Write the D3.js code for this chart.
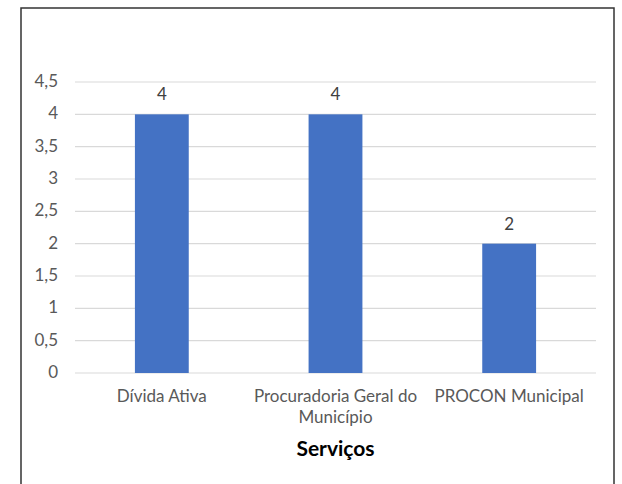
<!DOCTYPE html>
<html><head><meta charset="utf-8">
<script src="https://cdn.jsdelivr.net/npm/d3@7"></script>
<style>body{margin:0;background:#fff}svg{display:block}</style>
</head><body>
<script>
const categories = [["Dívida Ativa"], ["Procuradoria Geral do", "Município"], ["PROCON Municipal"]];
const values = [4, 4, 2];
const yTicks = [0, 0.5, 1, 1.5, 2, 2.5, 3, 3.5, 4, 4.5];
const xTitle = "Serviços";

(function() {
const W = 622, H = 484;
const svg = d3.select("body").append("svg").attr("width", W).attr("height", H);
const font = "Lato, 'Open Sans', sans-serif";

svg.append("rect").attr("x", 21).attr("y", 8).attr("width", 593).attr("height", H + 10)
  .attr("fill", "#fff").attr("stroke", "#333").attr("stroke-width", 1.5);

const pL = 75, pR = 596, pT = 82, pB = 373;
const idx = d3.range(values.length);
const x = d3.scaleBand().domain(idx).range([pL, pR]).padding(0);
const y = d3.scaleLinear().domain([0, 4.5]).range([pB, pT]);
const bw = x.bandwidth() * 0.31;

svg.append("g").selectAll("line").data(yTicks).join("line")
  .attr("x1", pL).attr("x2", pR)
  .attr("y1", d => y(d)).attr("y2", d => y(d))
  .attr("stroke", "#d9d9d9").attr("stroke-width", 1.2);

const fmt = d => String(d).replace(".", ",");
svg.append("g").selectAll("text").data(yTicks).join("text")
  .attr("x", 58).attr("y", d => y(d)).attr("dy", "0.3em")
  .attr("text-anchor", "end").attr("font-family", font).attr("font-size", 17)
  .attr("fill", "#595959").text(fmt);

svg.append("g").selectAll("rect").data(idx).join("rect")
  .attr("x", i => x(i) + (x.bandwidth() - bw) / 2).attr("width", bw)
  .attr("y", i => y(values[i])).attr("height", i => y(0) - y(values[i]))
  .attr("fill", "#4472c4");

svg.append("g").selectAll("text").data(idx).join("text")
  .attr("x", i => x(i) + x.bandwidth() / 2).attr("y", i => y(values[i]) - 14)
  .attr("text-anchor", "middle").attr("font-family", font).attr("font-size", 17)
  .attr("fill", "#404040").text(i => fmt(values[i]));

const cat = svg.append("g").selectAll("text").data(idx).join("text")
  .attr("text-anchor", "middle").attr("font-family", font).attr("font-size", 17)
  .attr("fill", "#595959");
cat.each(function(i) {
  const t = d3.select(this);
  categories[i].forEach((line, k) => {
    t.append("tspan").attr("x", x(i) + x.bandwidth() / 2).attr("y", 402 + k * 21).text(line);
  });
});

svg.append("text").attr("x", (pL + pR) / 2).attr("y", 456)
  .attr("text-anchor", "middle").attr("font-family", font).attr("font-size", 21)
  .attr("font-weight", "bold").attr("fill", "#000").text(xTitle);
})();
</script>
</body></html>
